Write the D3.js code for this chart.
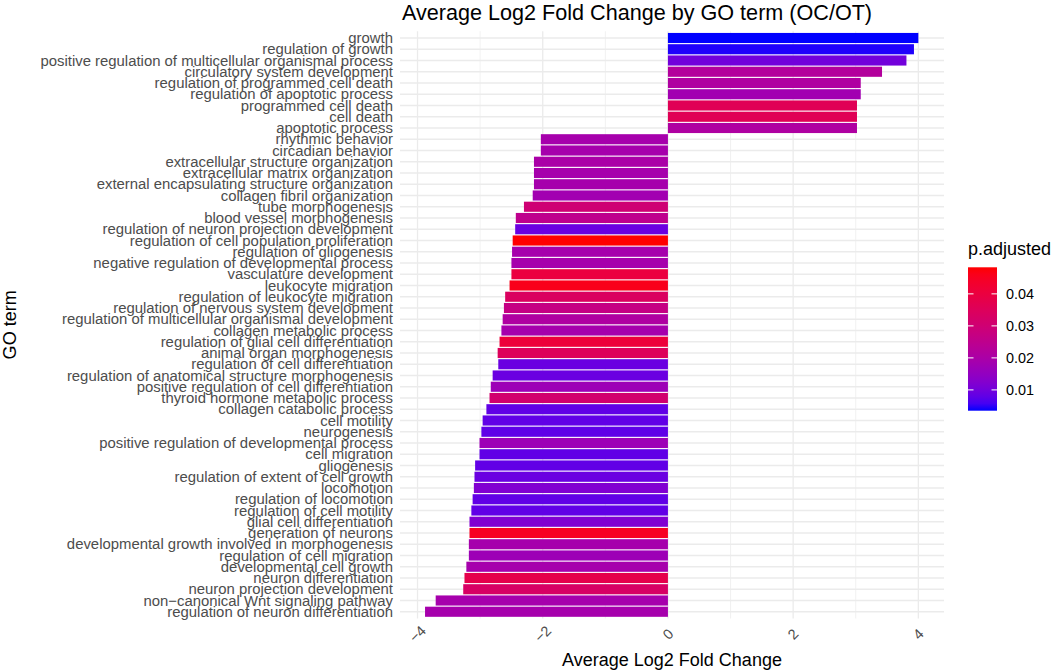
<!DOCTYPE html>
<html>
<head>
<meta charset="utf-8">
<script src="https://cdn.jsdelivr.net/npm/d3@7"></script>
<style>
  html, body { margin: 0; padding: 0; background: #fff; }
  svg { display: block; font-family: "Liberation Sans", Arial, Helvetica, sans-serif; }
</style>
</head>
<body>
<svg id="chart" width="1052" height="671"></svg>
<script>
// ---- data ----
const categories = [
  "growth",
  "regulation of growth",
  "positive regulation of multicellular organismal process",
  "circulatory system development",
  "regulation of programmed cell death",
  "regulation of apoptotic process",
  "programmed cell death",
  "cell death",
  "apoptotic process",
  "rhythmic behavior",
  "circadian behavior",
  "extracellular structure organization",
  "extracellular matrix organization",
  "external encapsulating structure organization",
  "collagen fibril organization",
  "tube morphogenesis",
  "blood vessel morphogenesis",
  "regulation of neuron projection development",
  "regulation of cell population proliferation",
  "regulation of gliogenesis",
  "negative regulation of developmental process",
  "vasculature development",
  "leukocyte migration",
  "regulation of leukocyte migration",
  "regulation of nervous system development",
  "regulation of multicellular organismal development",
  "collagen metabolic process",
  "regulation of glial cell differentiation",
  "animal organ morphogenesis",
  "regulation of cell differentiation",
  "regulation of anatomical structure morphogenesis",
  "positive regulation of cell differentiation",
  "thyroid hormone metabolic process",
  "collagen catabolic process",
  "cell motility",
  "neurogenesis",
  "positive regulation of developmental process",
  "cell migration",
  "gliogenesis",
  "regulation of extent of cell growth",
  "locomotion",
  "regulation of locomotion",
  "regulation of cell motility",
  "glial cell differentiation",
  "generation of neurons",
  "developmental growth involved in morphogenesis",
  "regulation of cell migration",
  "developmental cell growth",
  "neuron differentiation",
  "neuron projection development",
  "non\u2212canonical Wnt signaling pathway",
  "regulation of neuron differentiation"
];

const log2FC = [
  4.00, 3.93, 3.81, 3.42, 3.08, 3.08, 3.02, 3.02, 3.02,
  -2.03, -2.03, -2.14, -2.14, -2.14, -2.16, -2.30, -2.43, -2.44,
  -2.48, -2.49, -2.50, -2.50, -2.53, -2.60, -2.62, -2.64, -2.66,
  -2.69, -2.72, -2.71, -2.80, -2.83, -2.85, -2.90, -2.96, -2.98,
  -3.01, -3.01, -3.08, -3.09, -3.10, -3.12, -3.14, -3.17, -3.17,
  -3.18, -3.18, -3.22, -3.25, -3.27, -3.71, -3.88
];

const pAdjusted = [
  0.0035, 0.0040, 0.0100, 0.0220, 0.0210, 0.0180, 0.0360, 0.0360, 0.0210,
  0.0190, 0.0190, 0.0200, 0.0190, 0.0190, 0.0180, 0.0300, 0.0250, 0.0090,
  0.0483, 0.0190, 0.0190, 0.0400, 0.0460, 0.0340, 0.0270, 0.0210, 0.0190,
  0.0410, 0.0350, 0.0090, 0.0090, 0.0170, 0.0310, 0.0080, 0.0080, 0.0078,
  0.0170, 0.0080, 0.0080, 0.0090, 0.0120, 0.0080, 0.0080, 0.0120, 0.0450,
  0.0190, 0.0170, 0.0190, 0.0380, 0.0330, 0.0190, 0.0190
];

const xTicks = [-4, -2, 0, 2, 4];
const xMinorTicks = [-3, -1, 1, 3];
const legendTicks = [0.01, 0.02, 0.03, 0.04];

const titleText = "Average Log2 Fold Change by GO term (OC/OT)";
const xTitle = "Average Log2 Fold Change";
const yTitle = "GO term";
const legendTitle = "p.adjusted";

// ---- layout ----
const svg = d3.select("#chart");
const panel = { left: 400, right: 944, top: 31.25, bottom: 618.5 };

const data = categories.map((c, i) => ({ term: c, value: log2FC[i], p: pAdjusted[i] }));

const x = d3.scaleLinear().domain([-4.28, 4.41]).range([panel.left, panel.right]);
const y = d3.scalePoint().domain(categories).range([panel.top, panel.bottom]).padding(0.6);
const step = y.step();

const pExtent = d3.extent(pAdjusted);
const color = d3.scaleLinear().domain(pExtent).range(["blue", "red"]).interpolate(d3.interpolateLab);

// grid
const grid = svg.append("g");
grid.selectAll("line.minor").data(xMinorTicks).join("line")
  .attr("x1", d => x(d)).attr("x2", d => x(d))
  .attr("y1", panel.top).attr("y2", panel.bottom)
  .attr("stroke", "#EBEBEB").attr("stroke-width", 0.7);
grid.selectAll("line.majx").data(xTicks).join("line")
  .attr("x1", d => x(d)).attr("x2", d => x(d))
  .attr("y1", panel.top).attr("y2", panel.bottom)
  .attr("stroke", "#EBEBEB").attr("stroke-width", 1.3);
grid.selectAll("line.majy").data(categories).join("line")
  .attr("x1", panel.left).attr("x2", panel.right)
  .attr("y1", d => y(d)).attr("y2", d => y(d))
  .attr("stroke", "#EBEBEB").attr("stroke-width", 1.3);

// bars
svg.append("g").selectAll("rect").data(data).join("rect")
  .attr("x", d => x(Math.min(0, d.value)))
  .attr("width", d => Math.abs(x(d.value) - x(0)))
  .attr("y", d => y(d.term) - step * 0.45)
  .attr("height", step * 0.9)
  .attr("fill", d => color(d.p));

// y axis labels
svg.append("g").selectAll("text").data(categories).join("text")
  .attr("x", 393).attr("y", d => y(d))
  .attr("dy", "0.35em")
  .attr("text-anchor", "end")
  .attr("font-size", 14.9)
  .attr("fill", "#4D4D4D")
  .text(d => d);

// x axis labels (rotated 45)
svg.append("g").selectAll("text").data(xTicks).join("text")
  .attr("transform", d => `translate(${x(d)},634) rotate(-45)`)
  .attr("text-anchor", "middle")
  .attr("dy", "0.35em")
  .attr("font-size", 14.4)
  .attr("fill", "#4D4D4D")
  .text(d => d < 0 ? "\u2212" + Math.abs(d) : String(d));

// titles
svg.append("text").attr("x", 402).attr("y", 20)
  .attr("font-size", 21.6).attr("fill", "#000").text(titleText);
svg.append("text").attr("x", (panel.left + panel.right) / 2).attr("y", 666)
  .attr("text-anchor", "middle").attr("font-size", 18).attr("fill", "#000").text(xTitle);
svg.append("text").attr("transform", `translate(15.5,${(panel.top + panel.bottom) / 2}) rotate(-90)`)
  .attr("text-anchor", "middle").attr("font-size", 18).attr("fill", "#000").text(yTitle);

// legend
const leg = { x: 968, w: 29, top: 267.3, bottom: 410.7 };
const lp = d3.scaleLinear().domain(pExtent).range([leg.bottom, leg.top]);
const defs = svg.append("defs");
const grad = defs.append("linearGradient").attr("id", "pgrad")
  .attr("x1", 0).attr("y1", 1).attr("x2", 0).attr("y2", 0);
d3.range(0, 21).forEach(i => {
  const t = i / 20;
  grad.append("stop").attr("offset", t)
    .attr("stop-color", color(pExtent[0] + t * (pExtent[1] - pExtent[0])));
});
svg.append("text").attr("x", leg.x).attr("y", 255)
  .attr("font-size", 18).attr("fill", "#000").text(legendTitle);
svg.append("rect").attr("x", leg.x).attr("y", leg.top)
  .attr("width", leg.w).attr("height", leg.bottom - leg.top)
  .attr("fill", "url(#pgrad)");
const lt = svg.append("g");
lt.selectAll("line.l").data(legendTicks).join("line")
  .attr("x1", leg.x).attr("x2", leg.x + 5.5)
  .attr("y1", d => lp(d)).attr("y2", d => lp(d))
  .attr("stroke", "#fff").attr("stroke-width", 1);
lt.selectAll("line.r").data(legendTicks).join("line")
  .attr("x1", leg.x + leg.w - 5.5).attr("x2", leg.x + leg.w)
  .attr("y1", d => lp(d)).attr("y2", d => lp(d))
  .attr("stroke", "#fff").attr("stroke-width", 1);
lt.selectAll("text").data(legendTicks).join("text")
  .attr("x", 1006).attr("y", d => lp(d)).attr("dy", "0.35em")
  .attr("font-size", 14.4).attr("fill", "#000")
  .text(d => d.toFixed(2));
</script>
</body>
</html>
